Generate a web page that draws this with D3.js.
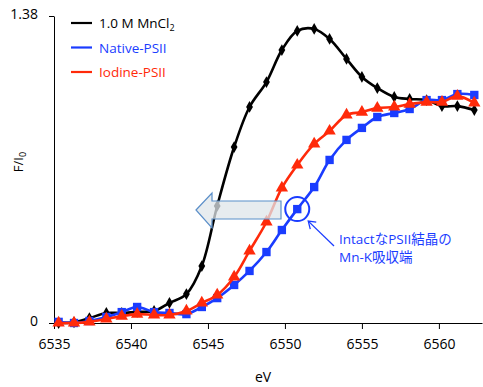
<!DOCTYPE html>
<html>
<head>
<meta charset="utf-8">
<script src="https://cdn.jsdelivr.net/npm/d3@7"></script>
<style>
  body { margin: 0; background: #fff; }
  svg text { font-family: "Open Sans", "Noto Sans CJK JP", sans-serif; }
</style>
</head>
<body>
<div id="chart"></div>
<script>
// energies (eV)
const energy = [6535.3, 6536.3, 6537.3, 6538.4, 6539.4, 6540.4, 6541.5, 6542.5, 6543.6, 6544.6,
  6545.6, 6546.7, 6547.7, 6548.8, 6549.8, 6550.8, 6551.9, 6552.9, 6554.0, 6555.0,
  6556.0, 6557.1, 6558.1, 6559.2, 6560.2, 6561.2, 6562.3];
const mncl2 = [0, 0.003, 0.022, 0.045, 0.045, 0.05, 0.054, 0.09, 0.13, 0.256,
  0.526, 0.791, 0.971, 1.083, 1.227, 1.313, 1.322, 1.277, 1.187, 1.106,
  1.056, 1.016, 1.007, 1.002, 0.975, 0.975, 0.957];
const nativePSII = [0.005, 0, 0.009, 0.027, 0.049, 0.072, 0.049, 0.045, 0.04, 0.072,
  0.112, 0.171, 0.234, 0.319, 0.418, 0.512, 0.611, 0.733, 0.823, 0.877,
  0.926, 0.944, 0.962, 1.002, 1.002, 1.029, 1.025];
const iodinePSII = [0, 0, 0.005, 0.018, 0.031, 0.04, 0.036, 0.036, 0.054, 0.09,
  0.126, 0.207, 0.324, 0.454, 0.607, 0.71, 0.805, 0.863, 0.935, 0.948,
  0.966, 0.971, 0.984, 0.993, 0.993, 1.02, 0.989];
const xTicks = [6535, 6540, 6545, 6550, 6555, 6560];
const yTicks = [0, 1.38];
const noteLines = ["IntactなPSII結晶の", "Mn-K吸収端"];
const series = [
  { name: "1.0 M MnCl", sub: "2", values: mncl2, color: "#000000", marker: "diamond", size: 40 },
  { name: "Native-PSII", sub: "", values: nativePSII, color: "#1a3cff", marker: "square", size: 70 },
  { name: "Iodine-PSII", sub: "", values: iodinePSII, color: "#ff2a0a", marker: "triangle", size: 66 }
];
// highlighted point (Native-PSII edge)
const edgeIndex = 15;

const W = 483, H = 387;
const svg = d3.select("#chart").append("svg")
  .attr("width", W).attr("height", H);

const x = d3.scaleLinear().domain([6535, 6562.8]).range([54, 482]);
const y = d3.scaleLinear().domain([0, 1.38]).range([323, 16]);

// axes
const xAxis = svg.append("g")
  .attr("transform", `translate(0,${y(0)})`)
  .call(d3.axisBottom(x).tickValues(xTicks).tickSize(6).tickSizeOuter(0)
    .tickFormat(d3.format("d")).tickPadding(10));
const yAxis = svg.append("g")
  .attr("transform", `translate(${x(6535)},0)`)
  .call(d3.axisLeft(y).tickValues(yTicks).tickSize(5).tickSizeOuter(0)
    .tickFormat(d => d === 0 ? "0" : d3.format(".2f")(d)).tickPadding(11));
[xAxis, yAxis].forEach(g => {
  g.selectAll("path, line").attr("stroke", "#000").attr("stroke-width", 1);
  g.selectAll("text").attr("fill", "#000").style("font-size", "14px");
});
yAxis.selectAll("text").attr("dy", "0.2em");

svg.append("text").attr("x", 263).attr("y", 382).attr("text-anchor", "middle")
  .style("font-size", "14px").text("eV");
svg.append("text").attr("transform", "translate(23,162) rotate(-90)")
  .attr("text-anchor", "middle").style("font-size", "13px")
  .text("F/I").append("tspan").attr("dy", 3).style("font-size", "9px").text("0");

// series
const symbolType = { diamond: d3.symbolDiamond, square: d3.symbolSquare, triangle: d3.symbolTriangle };
const line = d3.line().curve(d3.curveCatmullRom.alpha(0.5))
  .x((d, i) => x(energy[i])).y(d => y(d));

series.forEach(s => {
  const g = svg.append("g");
  g.append("path").datum(s.values)
    .attr("d", line).attr("fill", "none")
    .attr("stroke", s.color).attr("stroke-width", 2.6);
  g.selectAll("path.mk").data(s.values).enter().append("path")
    .attr("class", "mk")
    .attr("transform", (d, i) => `translate(${x(energy[i])},${y(d)})`)
    .attr("d", d3.symbol().type(symbolType[s.marker]).size(s.size))
    .attr("fill", s.color);
});

// legend
series.forEach((s, i) => {
  const ly = 23 + i * 24.5;
  svg.append("line").attr("x1", 71).attr("x2", 92).attr("y1", ly).attr("y2", ly)
    .attr("stroke", s.color).attr("stroke-width", 2.2);
  const t = svg.append("text").attr("x", 99).attr("y", ly + 5)
    .attr("fill", s.color).style("font-size", "13.5px").text(s.name);
  if (s.sub) t.append("tspan").attr("dy", 3).style("font-size", "9px").text(s.sub);
});

// block arrow pointing left
const arrow = d3.path();
arrow.moveTo(196, 210); arrow.lineTo(212, 193); arrow.lineTo(212, 201);
arrow.lineTo(281, 201); arrow.lineTo(281, 219); arrow.lineTo(212, 219);
arrow.lineTo(212, 228); arrow.closePath();
svg.append("path").attr("d", arrow.toString())
  .attr("fill", "#dfe5ea").attr("fill-opacity", 0.75)
  .attr("stroke", "#5b8fc9").attr("stroke-width", 1.2);

// circle around the edge point + pointer
const cx = x(energy[edgeIndex]), cy = y(nativePSII[edgeIndex]);
svg.append("circle").attr("cx", cx).attr("cy", cy).attr("r", 12)
  .attr("fill", "none").attr("stroke", "#1a3cff").attr("stroke-width", 2);
svg.append("line").attr("x1", 334).attr("y1", 246).attr("x2", cx + 11).attr("y2", cy + 12)
  .attr("stroke", "#1a3cff").attr("stroke-width", 1.3);
svg.append("path").attr("d", `M${cx + 19},${cy + 13} L${cx + 11},${cy + 12} L${cx + 13},${cy + 20}`)
  .attr("fill", "none").attr("stroke", "#1a3cff").attr("stroke-width", 1.3);

noteLines.forEach((t, i) => {
  svg.append("text").attr("x", 339).attr("y", 244 + i * 18)
    .attr("fill", "#1a3cff").style("font-size", "13.5px").text(t);
});
</script>
</body>
</html>
